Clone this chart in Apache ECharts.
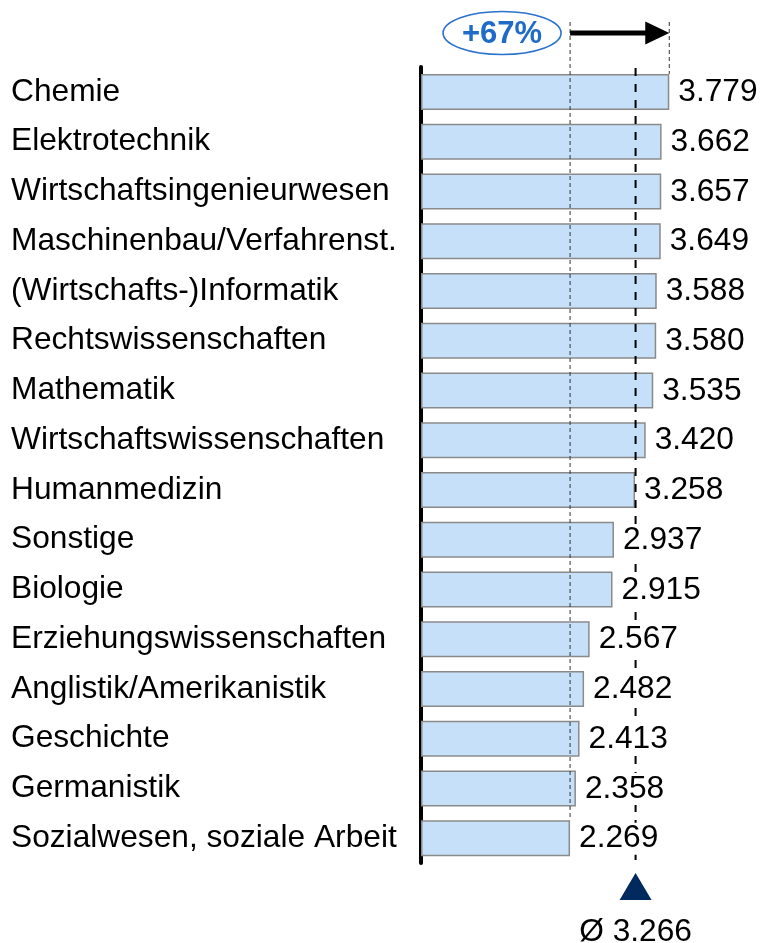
<!DOCTYPE html>
<html>
<head>
<meta charset="utf-8">
<script src="https://cdn.jsdelivr.net/npm/echarts@6/dist/echarts.min.js"></script>
<style>
html,body{margin:0;padding:0;background:#fff;}
#chart{width:763px;height:943px;}
</style>
</head>
<body>
<div id="chart"></div>
<script>
const categories = ['Chemie','Elektrotechnik','Wirtschaftsingenieurwesen','Maschinenbau/Verfahrenst.','(Wirtschafts-)Informatik','Rechtswissenschaften','Mathematik','Wirtschaftswissenschaften','Humanmedizin','Sonstige','Biologie','Erziehungswissenschaften','Anglistik/Amerikanistik','Geschichte','Germanistik','Sozialwesen, soziale Arbeit'];
const values = [3779,3662,3657,3649,3588,3580,3535,3420,3258,2937,2915,2567,2482,2413,2358,2269];
const average = 3266;
const pctLabel = '+67%';
const avgLabel = 'Ø 3.266';

function fmt(v){ return Math.floor(v/1000) + '.' + String(v % 1000).padStart(3,'0'); }

const FONT = '"Liberation Sans", Arial, Helvetica, sans-serif';
const FS = 31.7;
const minVal = Math.min.apply(null, values);
const maxVal = Math.max.apply(null, values);

const chart = echarts.init(document.getElementById('chart'), null, {renderer:'canvas'});

function renderAnno(params, api){
  const band = api.size([0,1])[1];
  const c0 = api.coord([0, 0]);
  const cN = api.coord([0, categories.length - 1]);
  const gridTop = c0[1] - band/2;
  const gridBottom = cN[1] + band/2;
  const barHalf = 18;
  const xMin = api.coord([minVal, 0])[0];
  const xMax = api.coord([maxVal, 0])[0];
  const xAvg = api.coord([average, 0])[0];
  const topY = gridTop - 45;
  const arrowY = gridTop - 34;
  const thin = {stroke:'#333', lineWidth:1, lineDash:[4,3]};
  const children = [
    {type:'line', shape:{x1:xMin, y1:topY, x2:xMin, y2:cN[1]-barHalf}, style:thin},
    {type:'line', shape:{x1:xMax, y1:topY, x2:xMax, y2:c0[1]-barHalf}, style:thin},
    {type:'line', shape:{x1:xMin, y1:arrowY, x2:xMax-22, y2:arrowY}, style:{stroke:'#000', lineWidth:5}},
    {type:'polygon', shape:{points:[[xMax-24, arrowY-11.5],[xMax, arrowY],[xMax-24, arrowY+11.5]]}, style:{fill:'#000'}},
    {type:'ellipse', shape:{cx:xMin-68, cy:arrowY, rx:59, ry:21.5}, style:{fill:'#fff', stroke:'#2a72cc', lineWidth:1.6}},
    {type:'text', x:xMin-68, y:arrowY+1, style:{text:pctLabel, fill:'#1f6cc8', font:'bold 31px ' + FONT, align:'center', verticalAlign:'middle'}},
    {type:'line', shape:{x1:xAvg, y1:gridTop+1, x2:xAvg, y2:gridBottom}, style:{stroke:'#000', lineWidth:2, lineDash:[8,8]}},
    {type:'polygon', shape:{points:[[xAvg, gridBottom+10],[xAvg+16, gridBottom+37],[xAvg-16, gridBottom+37]]}, style:{fill:'#002a5e'}},
    {type:'text', x:xAvg, y:gridBottom+69, style:{text:avgLabel, fill:'#000', font:FS + 'px ' + FONT, align:'center', verticalAlign:'middle'}}
  ];
  return {type:'group', children:children};
}

function renderValueLabel(params, api){
  const v = api.value(0);
  const idx = api.value(1);
  const c = api.coord([v, idx]);
  return {
    type:'text', x:c[0] + 8, y:c[1] + 0.5,
    style:{text:fmt(v), fill:'#000', font:FS + 'px ' + FONT, align:'left', verticalAlign:'middle',
      backgroundColor:'#fff', padding:[0,1,0,1]}
  };
}

chart.setOption({
  animation:false,
  backgroundColor:'#fff',
  grid:{left:421, right:13.5, top:67, bottom:80, containLabel:false},
  xAxis:{type:'value', min:0, max:5000, show:false},
  yAxis:{
    type:'category', data:categories, inverse:true,
    axisLine:{show:true, lineStyle:{color:'#000', width:4, cap:'round'}},
    axisTick:{show:false},
    splitLine:{show:false},
    axisLabel:{align:'left', margin:410, fontSize:FS, color:'#000', fontFamily:FONT, verticalAlign:'middle'}
  },
  series:[
    {
      type:'bar', data:values, barWidth:36, z:2,
      itemStyle:{color:'#c6e0f9', borderColor:'#8a8a8a', borderWidth:1.5},
      label:{show:false}
    },
    {
      type:'custom', z:5, clip:false, silent:true,
      data:[[0,0]], encode:{x:0, y:1},
      renderItem:renderAnno
    },
    {
      type:'custom', z:8, clip:false, silent:true,
      data:values.map(function(v,i){ return [v, i]; }), encode:{x:0, y:1},
      renderItem:renderValueLabel
    }
  ]
});
</script>
</body>
</html>
